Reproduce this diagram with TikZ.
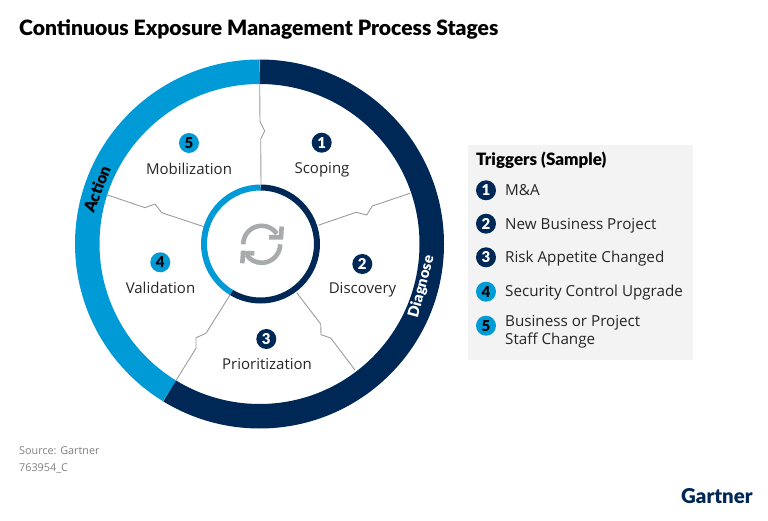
\documentclass[tikz,border=0pt]{standalone}
\usepackage{fontspec}
\setmainfont{Open Sans}
\newfontfamily\headfont{Lato}[BoldFont={Lato Black}]
\usepackage{xcolor}
\usetikzlibrary{positioning}
\definecolor{navy}{HTML}{002856}
\definecolor{cyanblue}{HTML}{009AD7}
\definecolor{linegrey}{HTML}{9A9D9D}
\definecolor{icongrey}{HTML}{A7ABAB}
\definecolor{panelgrey}{HTML}{F3F3F3}
\definecolor{sourcegrey}{HTML}{7F7F7F}
\tikzset{
	divider/.style={draw=linegrey, line width=0.9pt},
	badgenavy/.style={circle, fill=navy, text=white, minimum size=20pt, inner sep=0pt, font=\headfont\bfseries\fontsize{15}{15}\selectfont},
	badgecyan/.style={circle, fill=cyanblue, text=black, minimum size=20pt, inner sep=0pt, font=\headfont\bfseries\fontsize{15}{15}\selectfont},
	stagelabel/.style={text=black!85, inner sep=0pt, font=\fontsize{15}{17}\selectfont},
	triggerlabel/.style={text=black!85, inner sep=0pt, anchor=west, align=left, font=\fontsize{15.2}{18}\selectfont},
	ringlabel/.style={inner sep=0pt, font=\headfont\bfseries\fontsize{16}{16}\selectfont},
	iconarc/.style={draw=icongrey, line width=4.6pt}
}
\begin{document}
\begin{tikzpicture}[x=1pt,y=1pt]
	\useasboundingbox (0,0) rectangle (768,520);
	\draw (19,491) node[anchor=west, inner sep=0pt, font=\headfont\bfseries\fontsize{21.1}{22}\selectfont] (title) {Continuous Exposure Management Process Stages};

	% outer and inner rings
	\draw[line width=24.5pt, navy] (259.5,276) ++(90:172.25) arc (90:-121.5:172.25);
	\draw[line width=24.5pt, cyanblue] (259.5,276) ++(90:172.25) arc (90:238.5:172.25);
	\draw[line width=6pt, navy] (260.5,276) ++(90:56.5) arc (90:-121:56.5);
	\draw[line width=6pt, cyanblue] (260.5,276) ++(90:56.5) arc (90:239:56.5);

	% stage dividers
	\draw[divider] (259.7,436.7) -- (260,398.3) -- (264.7,389) -- (260.7,381) -- (261,335);
	\draw[divider] (410,326.7) -- (372.3,314) -- (366.7,305) -- (356,307.7) -- (318.3,294.7);
	\draw[divider] (296.7,227.3) -- (320.7,196) -- (321,185.3) -- (330.7,182) -- (355,150);
	\draw[divider] (230,225) -- (206,186.7) -- (196,182.3) -- (196,171.7) -- (175.7,139);
	\draw[divider] (106.7,325.3) -- (145,312.3) -- (155,316) -- (161.7,307.3) -- (204,293.3);

	% refresh icon
	\draw[iconarc] (261.7,275.7) ++(180:18.5) arc (180:35:18.5);
	\draw[iconarc] (281.7,293.5) -- (281,282.7) -- (269,282.7);
	\draw[iconarc] (261.7,275.7) ++(0:18.5) arc (0:-145:18.5);
	\draw[iconarc] (242.3,256.7) -- (243,267) -- (254.3,266.7);

	\draw (97,331) node[ringlabel, text=black, rotate=69] (action) {Action}
	(421.7,233.5) node[ringlabel, text=white, rotate=75, font=\headfont\bfseries\fontsize{15}{15}\selectfont] (diagnose) {Diagnose};

	\draw (321.7,377.3) node[badgenavy] (s1) {1}
	(362.3,256) node[badgenavy] (s2) {2}
	(266.3,181) node[badgenavy] (s3) {3}
	(160.3,257.7) node[badgecyan] (s4) {4}
	(189,377) node[badgecyan] (s5) {5};

	\draw (322,350.5) node[stagelabel] (scoping) {Scoping}
	(362.5,230.5) node[stagelabel] (discovery) {Discovery}
	(267,155.5) node[stagelabel] (prioritization) {Prioritization}
	(160.5,232) node[stagelabel] (validation) {Validation}
	(189,351.5) node[stagelabel] (mobilization) {Mobilization};

	% triggers panel
	\fill[panelgrey] (468,375) rectangle (693,160);
	\draw (476,360) node[anchor=west, inner sep=0pt, font=\headfont\bfseries\fontsize{17}{17}\selectfont] (triggers) {Triggers (Sample)};
	\draw (486,329.7) node[badgenavy] (t1) {1}
	(486,296.3) node[badgenavy] (t2) {2}
	(486,262.7) node[badgenavy] (t3) {3}
	(486,228.3) node[badgecyan] (t4) {4}
	(486,194.3) node[badgecyan] (t5) {5};
	\draw (505,330) node[triggerlabel] (l1) {M\&A}
	(505,294.5) node[triggerlabel] (l2) {New Business Project}
	(505,261) node[triggerlabel] (l3) {Risk Appetite Changed}
	(505,227.5) node[triggerlabel] (l4) {Security Control Upgrade}
	(505,188) node[triggerlabel] (l5) {Business or Project\\Staff Change};

	\draw (19,69.5) node[anchor=west, inner sep=0pt, text=sourcegrey, font=\fontsize{10.8}{12}\selectfont] (source) {Source: Gartner}
	(19,51.5) node[anchor=west, inner sep=0pt, text=sourcegrey, font=\fontsize{10.8}{12}\selectfont] (docid) {763954\_C}
	(681,24) node[anchor=west, inner sep=0pt, text=navy, font=\headfont\bfseries\fontsize{20.4}{21}\selectfont] (logo) {Gartner};
\end{tikzpicture}
\end{document}
